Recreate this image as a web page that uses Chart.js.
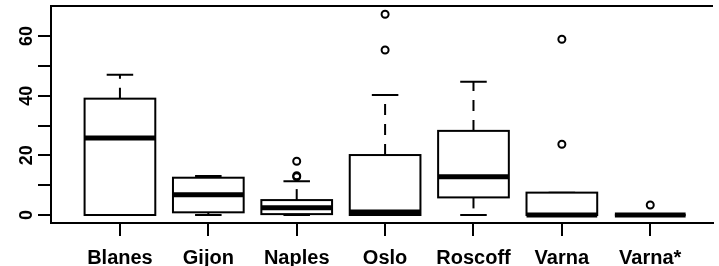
<!DOCTYPE html>
<html>
<head>
<meta charset="utf-8">
<script src="https://cdn.jsdelivr.net/npm/chart.js@4/dist/chart.umd.min.js"></script>
<style>
    html, body { margin: 0; padding: 0; background: #ffffff; overflow: hidden; }
    #boxChart { display: block; }
</style>
</head>
<body>
<canvas id="boxChart" width="719" height="266"></canvas>
<script>
// Sites
var categories = ['Blanes', 'Gijon', 'Naples', 'Oslo', 'Roscoff', 'Varna', 'Varna*'];

// Box statistics per site (lower whisker, Q1, median, Q3, upper whisker)
var whiskerLow  = [0,    0,    0,    0,    0,    0,   0];
var q1Values    = [0,    0.9,  0.3,  0,    5.9,  0,   0];
var medians     = [25.8, 6.8,  2.4,  1.0,  12.8, 0,   0];
var q3Values    = [39.0, 12.5, 5.0,  20.1, 28.2, 7.5, 0];
var whiskerHigh = [47.0, 13.1, 11.3, 40.2, 44.7, 7.5, 0];

// Outliers (site index starting at 1, value)
var outlierSite  = [3,    3,    3,    4,    4,    6,    6,    7];
var outlierValue = [12.8, 13.2, 18.0, 55.3, 67.3, 23.7, 58.9, 3.35];

// Y axis ticks
var yTicks = [0, 10, 20, 30, 40, 50, 60];
var yLabels = [0, 20, 40, 60];

var outlierPoints = outlierSite.map(function (s, i) {
    return { x: s, y: outlierValue[i] };
});

// Draws the boxes, whiskers, top frame and rotated y labels
var boxPlugin = {
    id: 'boxes',
    beforeDatasetsDraw: function (chart) {
        var ctx = chart.ctx,
            xs = chart.scales.x,
            ys = chart.scales.y,
            area = chart.chartArea;

        ctx.save();
        ctx.strokeStyle = '#000000';

        // top frame line
        ctx.lineWidth = 2;
        ctx.beginPath();
        ctx.moveTo(area.left, area.top);
        ctx.lineTo(area.right, area.top);
        ctx.stroke();

        for (var i = 0; i < categories.length; i++) {
            var c = i + 1;
            var left = xs.getPixelForValue(c - 0.4),
                right = xs.getPixelForValue(c + 0.4),
                mid = xs.getPixelForValue(c),
                capL = xs.getPixelForValue(c - 0.15),
                capR = xs.getPixelForValue(c + 0.15);
            var yLow = ys.getPixelForValue(whiskerLow[i]),
                yQ1 = ys.getPixelForValue(q1Values[i]),
                yMed = ys.getPixelForValue(medians[i]),
                yQ3 = ys.getPixelForValue(q3Values[i]),
                yHigh = ys.getPixelForValue(whiskerHigh[i]);

            // whiskers
            ctx.lineWidth = 2;
            ctx.setLineDash([11, 9]);
            if (yHigh < yQ3) {
                ctx.beginPath();
                ctx.moveTo(mid, yQ3);
                ctx.lineTo(mid, yHigh);
                ctx.stroke();
            }
            if (yLow > yQ1) {
                ctx.beginPath();
                ctx.moveTo(mid, yQ1);
                ctx.lineTo(mid, yLow);
                ctx.stroke();
            }
            ctx.setLineDash([]);

            // caps
            ctx.beginPath();
            ctx.moveTo(capL, yHigh);
            ctx.lineTo(capR, yHigh);
            ctx.moveTo(capL, yLow);
            ctx.lineTo(capR, yLow);
            ctx.stroke();

            // box
            ctx.fillStyle = '#ffffff';
            ctx.fillRect(left, yQ3, right - left, yQ1 - yQ3);
            ctx.strokeRect(left, yQ3, right - left, yQ1 - yQ3);

            // median
            ctx.lineWidth = 5;
            ctx.beginPath();
            ctx.moveTo(left, yMed);
            ctx.lineTo(right, yMed);
            ctx.stroke();
        }

        // rotated y labels
        ctx.fillStyle = '#000000';
        ctx.font = "bold 18px 'Liberation Sans', Arial, sans-serif";
        ctx.textAlign = 'center';
        ctx.textBaseline = 'alphabetic';
        yLabels.forEach(function (v) {
            var py = ys.getPixelForValue(v);
            ctx.save();
            ctx.translate(31.5, py);
            ctx.rotate(-Math.PI / 2);
            ctx.fillText(String(v), 0, 0);
            ctx.restore();
        });

        ctx.restore();
    }
};

var ctx = document.getElementById('boxChart').getContext('2d');
var boxChart = new Chart(ctx, {
    type: 'scatter',
    data: {
        datasets: [{
            data: outlierPoints,
            pointStyle: 'circle',
            pointRadius: 3.5,
            pointBorderWidth: 2,
            borderColor: '#000000',
            backgroundColor: 'rgba(0,0,0,0)'
        }]
    },
    options: {
        responsive: false,
        animation: false,
        events: [],
        layout: { padding: { top: 6, right: 0, bottom: 0, left: 0 } },
        plugins: {
            legend: { display: false },
            tooltip: { enabled: false }
        },
        scales: {
            x: {
                type: 'linear',
                min: 0.22,
                max: 7.71,
                afterBuildTicks: function (scale) {
                    scale.ticks = categories.map(function (c, i) { return { value: i + 1 }; });
                },
                afterFit: function (scale) { scale.height = 43; },
                ticks: {
                    autoSkip: false,
                    maxRotation: 0,
                    minRotation: 0,
                    padding: 10,
                    color: '#000000',
                    font: { family: "'Liberation Sans', Arial, sans-serif", size: 20, weight: 'bold' },
                    callback: function (value) { return categories[value - 1]; }
                },
                grid: { drawOnChartArea: false, tickLength: 13, lineWidth: 2, color: '#000000' },
                border: { display: true, color: '#000000', width: 2 }
            },
            y: {
                min: -2.68,
                max: 70.06,
                afterBuildTicks: function (scale) {
                    scale.ticks = yTicks.map(function (v) { return { value: v }; });
                },
                afterFit: function (scale) { scale.width = 51; },
                ticks: { display: false },
                grid: { drawOnChartArea: false, tickLength: 13, lineWidth: 2, color: '#000000' },
                border: { display: true, color: '#000000', width: 2 }
            }
        }
    },
    plugins: [boxPlugin]
});
</script>
</body>
</html>
